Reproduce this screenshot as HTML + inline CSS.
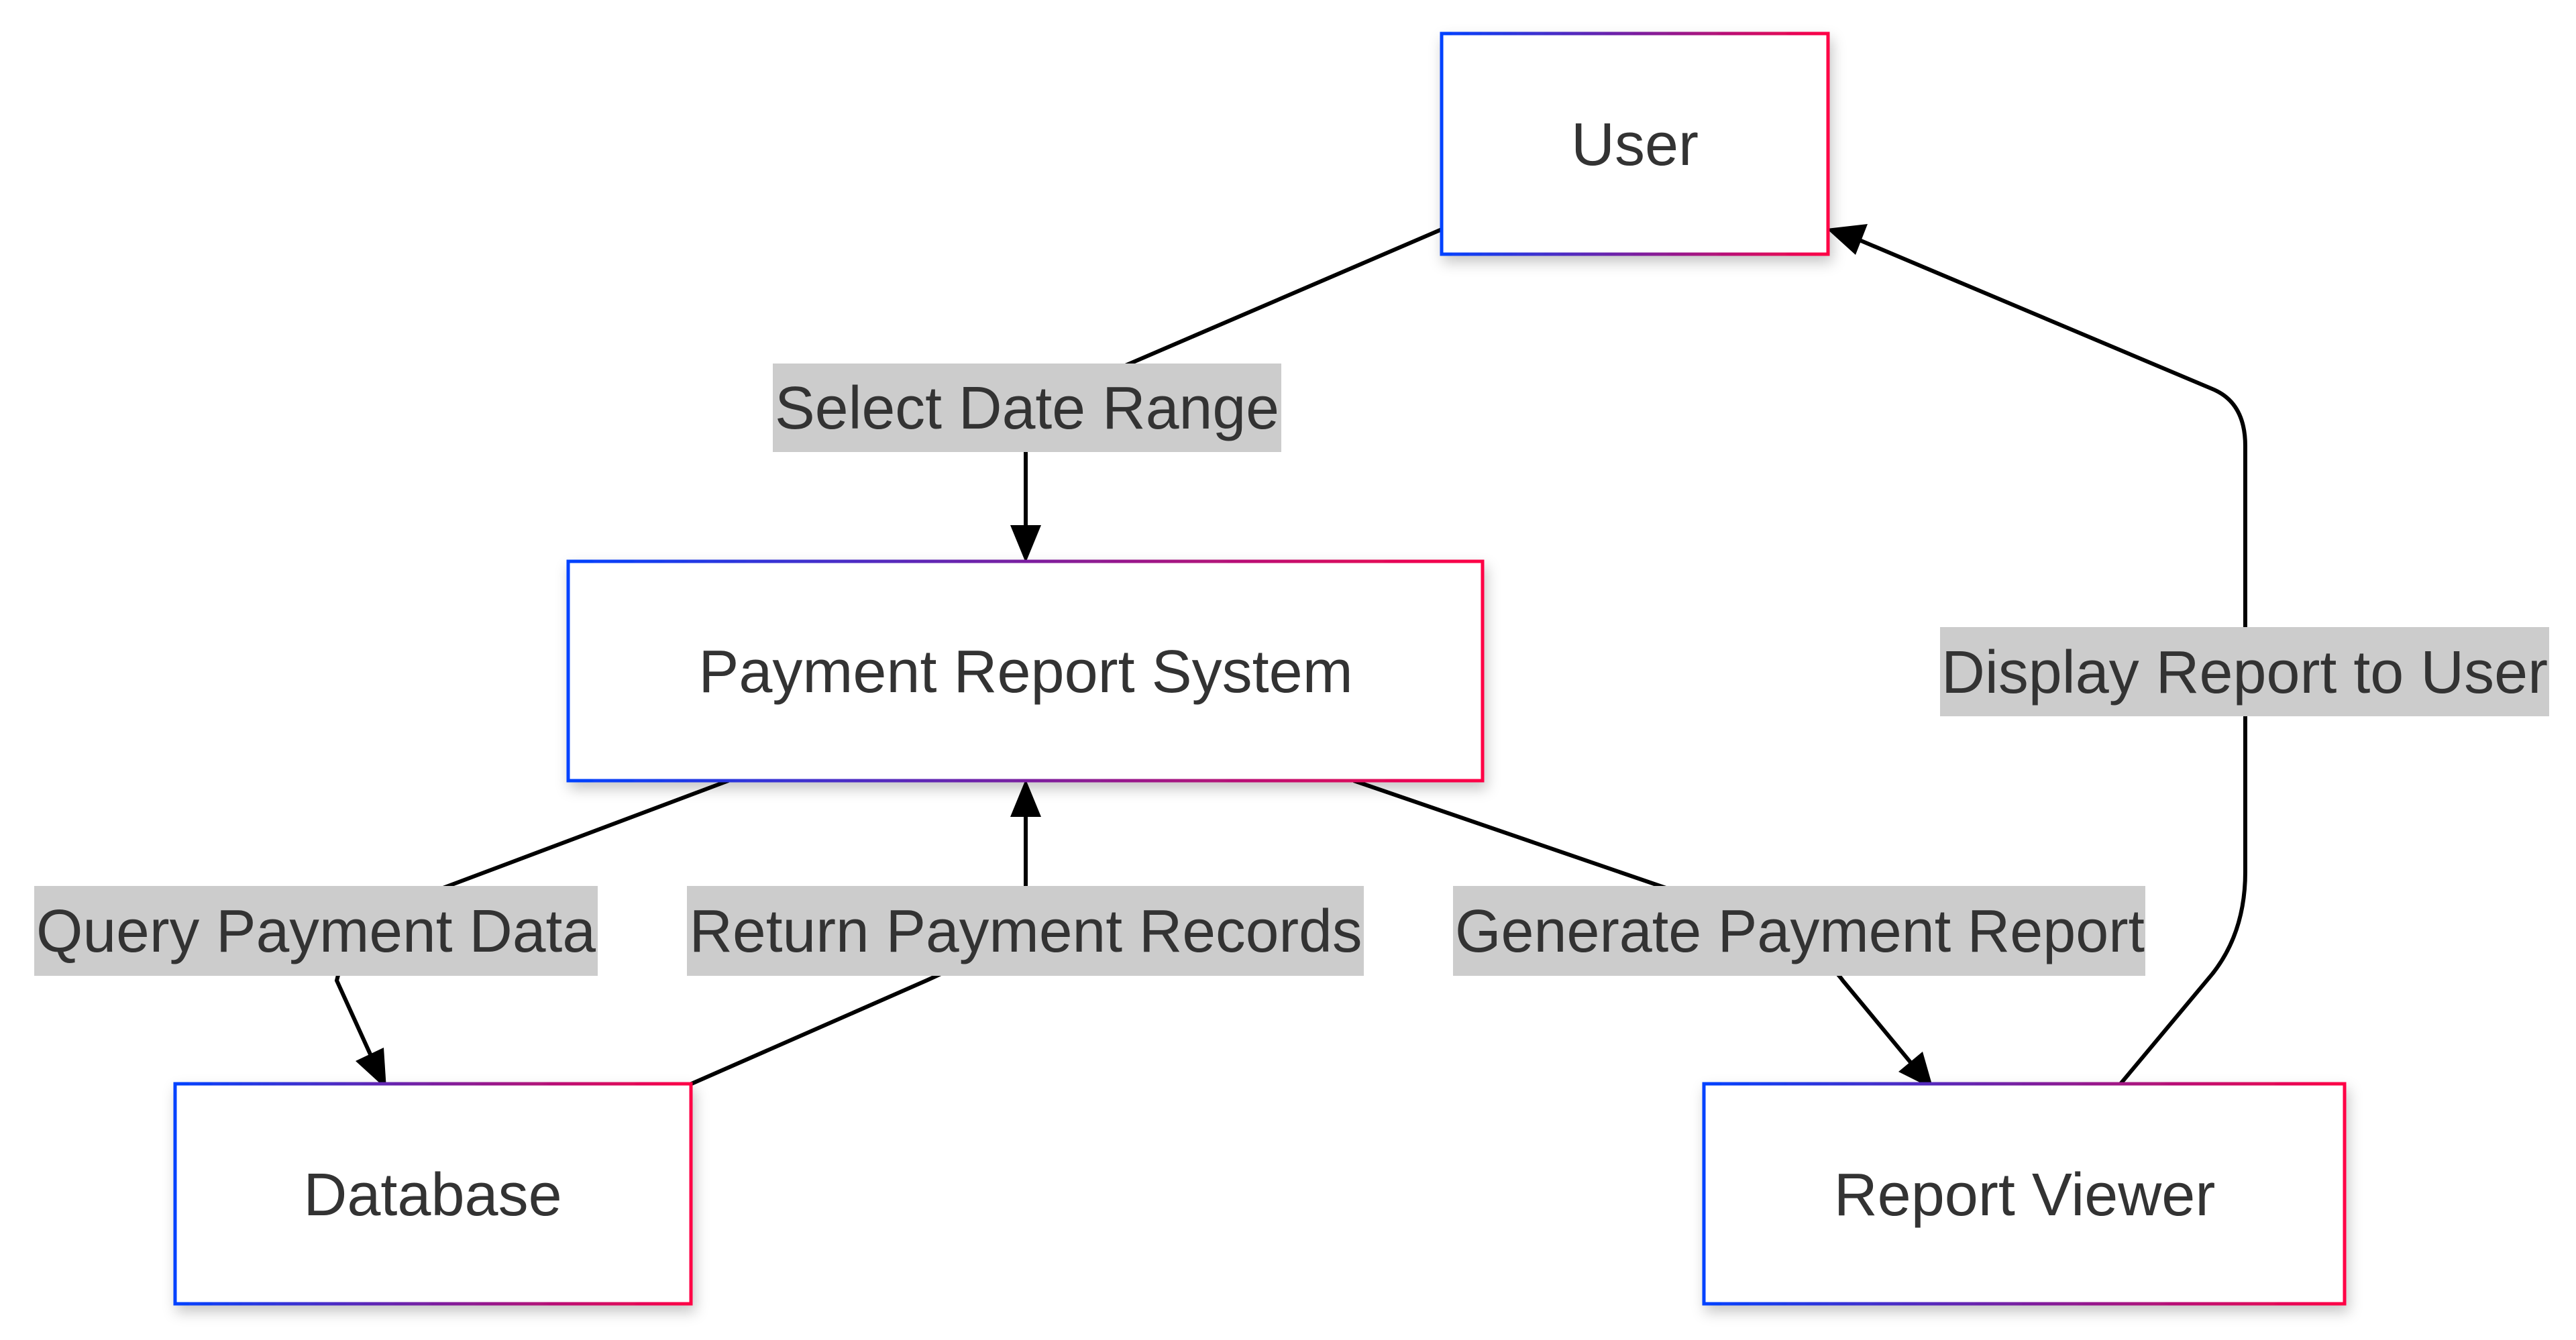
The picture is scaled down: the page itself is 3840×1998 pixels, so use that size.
<!DOCTYPE html>
<html><head><meta charset="utf-8"><style>
html,body{margin:0;padding:0;background:#fff;}
svg{display:block;}
text{font-family:"Liberation Sans",Arial,sans-serif;fill:#333;font-size:90px;}
</style></head><body>
<svg width="3840" height="1998" viewBox="0 0 3840 1998" xmlns="http://www.w3.org/2000/svg">
<defs>
<linearGradient id="g" x1="0" y1="0" x2="1" y2="0">
<stop offset="0" stop-color="#0042ff"/><stop offset="0.5" stop-color="#7a1fa0"/><stop offset="1" stop-color="#ff0044"/>
</linearGradient>
<filter id="sh" x="-20%" y="-20%" width="140%" height="150%">
<feDropShadow dx="4" dy="10" stdDeviation="10" flood-color="#000" flood-opacity="0.22"/>
</filter>
</defs>

<!-- edges -->
<g fill="none" stroke="#000" stroke-width="6">
<path d="M2149 342 L1610 574 Q1529 608 1529 660 L1529 787"/>
<path d="M1086 1164 L647 1329 Q520 1380 502 1462 L552 1572"/>
<path d="M1017 1622 L1381 1462 Q1529 1396 1529 1329 L1529 1214"/>
<path d="M2018 1164 L2498 1329 Q2700 1396 2747 1462 L2848 1584"/>
<path d="M3156 1622 L3298 1452 Q3347 1390 3347 1300 L3347 665 Q3347 600 3298 580 L2772 358"/>
</g>
<g fill="#000">
<polygon points="1529,839 1506,783 1552,783"/>
<polygon points="576,1624 530,1582 572,1562"/>
<polygon points="1529,1162 1506,1218 1552,1218"/>
<polygon points="2882,1624 2830,1598 2866,1568"/>
<polygon points="2723,341 2784,334 2766,380"/>
</g>

<!-- nodes -->
<g fill="#fff" stroke="url(#g)" stroke-width="5" filter="url(#sh)">
<rect x="2149" y="50" width="576" height="329"/>
<rect x="847" y="837" width="1363" height="327"/>
<rect x="261" y="1616" width="769" height="328"/>
<rect x="2540" y="1616" width="955" height="328"/>
</g>
<text x="2437" y="246" text-anchor="middle">User</text>
<text x="1529" y="1032" text-anchor="middle">Payment Report System</text>
<text x="645" y="1812" text-anchor="middle">Database</text>
<text x="3018" y="1812" text-anchor="middle">Report Viewer</text>

<!-- labels -->
<g fill="#cccccc">
<rect x="1152" y="542" width="758" height="132"/>
<rect x="2892" y="935" width="908" height="133"/>
<rect x="51" y="1321" width="840" height="134"/>
<rect x="1024" y="1321" width="1009" height="134"/>
<rect x="2166" y="1321" width="1032" height="134"/>
</g>
<text x="1531" y="639" text-anchor="middle" textLength="752" lengthAdjust="spacingAndGlyphs">Select Date Range</text>
<text x="3346" y="1033" text-anchor="middle" textLength="904" lengthAdjust="spacingAndGlyphs">Display Report to User</text>
<text x="471" y="1419" text-anchor="middle" textLength="834" lengthAdjust="spacingAndGlyphs">Query Payment Data</text>
<text x="1529" y="1419" text-anchor="middle" textLength="1003" lengthAdjust="spacingAndGlyphs">Return Payment Records</text>
<text x="2683" y="1419" text-anchor="middle" textLength="1028" lengthAdjust="spacingAndGlyphs">Generate Payment Report</text>
</svg>
</body></html>
